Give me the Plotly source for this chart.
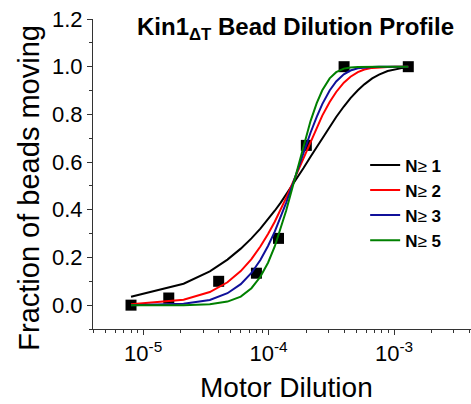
import plotly.graph_objects as go

# ---- data ----
dilution_pts = [8e-6, 1.6e-5, 4e-5, 8e-5, 1.2e-4, 2e-4, 4e-4, 1.3e-3]
fraction_pts = [0.0, 0.03, 0.10, 0.134, 0.28, 0.67, 1.0, 1.0]

x_fit = [8e-6, 2.1e-5, 3.4e-5, 4.7e-5, 6.0e-5, 7.3e-5, 8.6e-5, 9.9e-5, 1.12e-4,
         1.25e-4, 1.38e-4, 1.51e-4, 1.64e-4, 1.77e-4, 1.90e-4, 2.16e-4, 2.42e-4,
         2.68e-4, 3.07e-4, 3.46e-4, 3.98e-4, 4.50e-4, 5.15e-4, 5.80e-4, 6.70e-4,
         7.60e-4, 8.90e-4, 1.02e-3, 1.15e-3, 1.30e-3]
fit_n1 = [0.035, 0.090, 0.142, 0.191, 0.237, 0.280, 0.321, 0.360, 0.396, 0.430,
          0.463, 0.493, 0.522, 0.549, 0.575, 0.622, 0.663, 0.701, 0.749, 0.789,
          0.833, 0.868, 0.901, 0.926, 0.951, 0.967, 0.982, 0.990, 0.994, 0.997]
fit_n2 = [0.004, 0.023, 0.055, 0.096, 0.143, 0.193, 0.246, 0.298, 0.350, 0.401,
          0.450, 0.497, 0.540, 0.581, 0.620, 0.688, 0.746, 0.795, 0.852, 0.894,
          0.933, 0.958, 0.977, 0.988, 0.995, 0.998, 0.999, 1.0, 1.0, 1.0]
fit_n3 = [0.000, 0.006, 0.022, 0.050, 0.088, 0.135, 0.189, 0.248, 0.308, 0.369,
          0.429, 0.487, 0.542, 0.593, 0.640, 0.723, 0.790, 0.843, 0.900, 0.938,
          0.968, 0.984, 0.993, 0.997, 0.999, 1.0, 1.0, 1.0, 1.0, 1.0]
fit_n5 = [0.000, 0.000, 0.004, 0.015, 0.036, 0.071, 0.119, 0.178, 0.246, 0.320,
          0.396, 0.471, 0.543, 0.609, 0.670, 0.772, 0.847, 0.901, 0.951, 0.977,
          0.992, 0.997, 0.999, 1.0, 1.0, 1.0, 1.0, 1.0, 1.0, 1.0]

series_labels = ["1", "2", "3", "5"]
series_values = [fit_n1, fit_n2, fit_n3, fit_n5]
series_colors = ["#000000", "#FF0000", "#10109A", "#008000"]

x_tick_vals = [1e-5, 1e-4, 1e-3]
x_tick_text = ["10<sup>-5</sup>", "10<sup>-4</sup>", "10<sup>-3</sup>"]
x_minor_vals = [4e-6, 5e-6, 6e-6, 7e-6, 8e-6, 9e-6,
                2e-5, 3e-5, 4e-5, 5e-5, 6e-5, 7e-5, 8e-5, 9e-5,
                2e-4, 3e-4, 4e-4, 5e-4, 6e-4, 7e-4, 8e-4, 9e-4,
                2e-3, 3e-3, 4e-3]
y_tick_vals = [0.0, 0.2, 0.4, 0.6, 0.8, 1.0, 1.2]
y_tick_text = ["0.0", "0.2", "0.4", "0.6", "0.8", "1.0", "1.2"]
y_minor_vals = [-0.1, 0.1, 0.3, 0.5, 0.7, 0.9, 1.1]

title_text = "<b>Kin1<sub>ΔT</sub> Bead Dilution Profile</b>"
x_title = "Motor Dilution"
y_title = "Fraction of beads moving"

FONT = "Arial, 'Liberation Sans', sans-serif"

fig = go.Figure()
fig.add_trace(go.Scatter(
    x=dilution_pts, y=fraction_pts, mode="markers", showlegend=False,
    marker=dict(symbol="square", size=11, color="#000000")))
for lab, vals, col in zip(series_labels, series_values, series_colors):
    fig.add_trace(go.Scatter(
        x=x_fit, y=vals, mode="lines",
        name="<b>N</b>≥ <b>" + lab + "</b>",
        line=dict(color=col, width=2)))

fig.update_layout(
    width=471, height=404,
    margin=dict(l=93, r=0, t=19, b=75),
    paper_bgcolor="white", plot_bgcolor="white",
    font=dict(family=FONT, color="#000000"),
    showlegend=True,
    legend=dict(x=0.72, y=0.586, xanchor="left", yanchor="top",
                bgcolor="rgba(0,0,0,0)", font=dict(size=17, family=FONT),
                tracegroupgap=0, itemwidth=30),
    xaxis=dict(type="log", range=[-5.40, -2.386], automargin=False,
               showline=True, linecolor="#333333", linewidth=1,
               ticks="outside", ticklen=5, tickcolor="#333333",
               tickvals=x_tick_vals, ticktext=x_tick_text,
               tickfont=dict(size=22, family=FONT),
               minor=dict(ticks="outside", ticklen=3, tickcolor="#333333",
                          tickvals=x_minor_vals, showgrid=False),
               showgrid=False, zeroline=False),
    yaxis=dict(range=[-0.1, 1.2], automargin=False,
               showline=True, linecolor="#333333", linewidth=1,
               ticks="outside", ticklen=5, tickcolor="#333333",
               tickvals=y_tick_vals, ticktext=y_tick_text,
               tickfont=dict(size=22, family=FONT),
               minor=dict(ticks="outside", ticklen=3, tickcolor="#333333",
                          tickvals=y_minor_vals, showgrid=False),
               showgrid=False, zeroline=False),
    annotations=[
        dict(text=title_text, xref="paper", yref="paper", x=0.537, y=0.97,
             xanchor="center", yanchor="middle", showarrow=False,
             font=dict(size=24, family=FONT, color="#000000")),
        dict(text=x_title, xref="paper", yref="paper", x=0.512, y=-0.188,
             xanchor="center", yanchor="middle", showarrow=False,
             font=dict(size=28, family=FONT, color="#000000")),
        dict(text=y_title, xref="paper", yref="paper", x=-0.17, y=0.455,
             xanchor="center", yanchor="middle", showarrow=False, textangle=-90,
             font=dict(size=29, family=FONT, color="#000000")),
    ],
)

fig.write_html("out.html", config={"displayModeBar": False},
               post_script="document.body.style.margin='0px';")
